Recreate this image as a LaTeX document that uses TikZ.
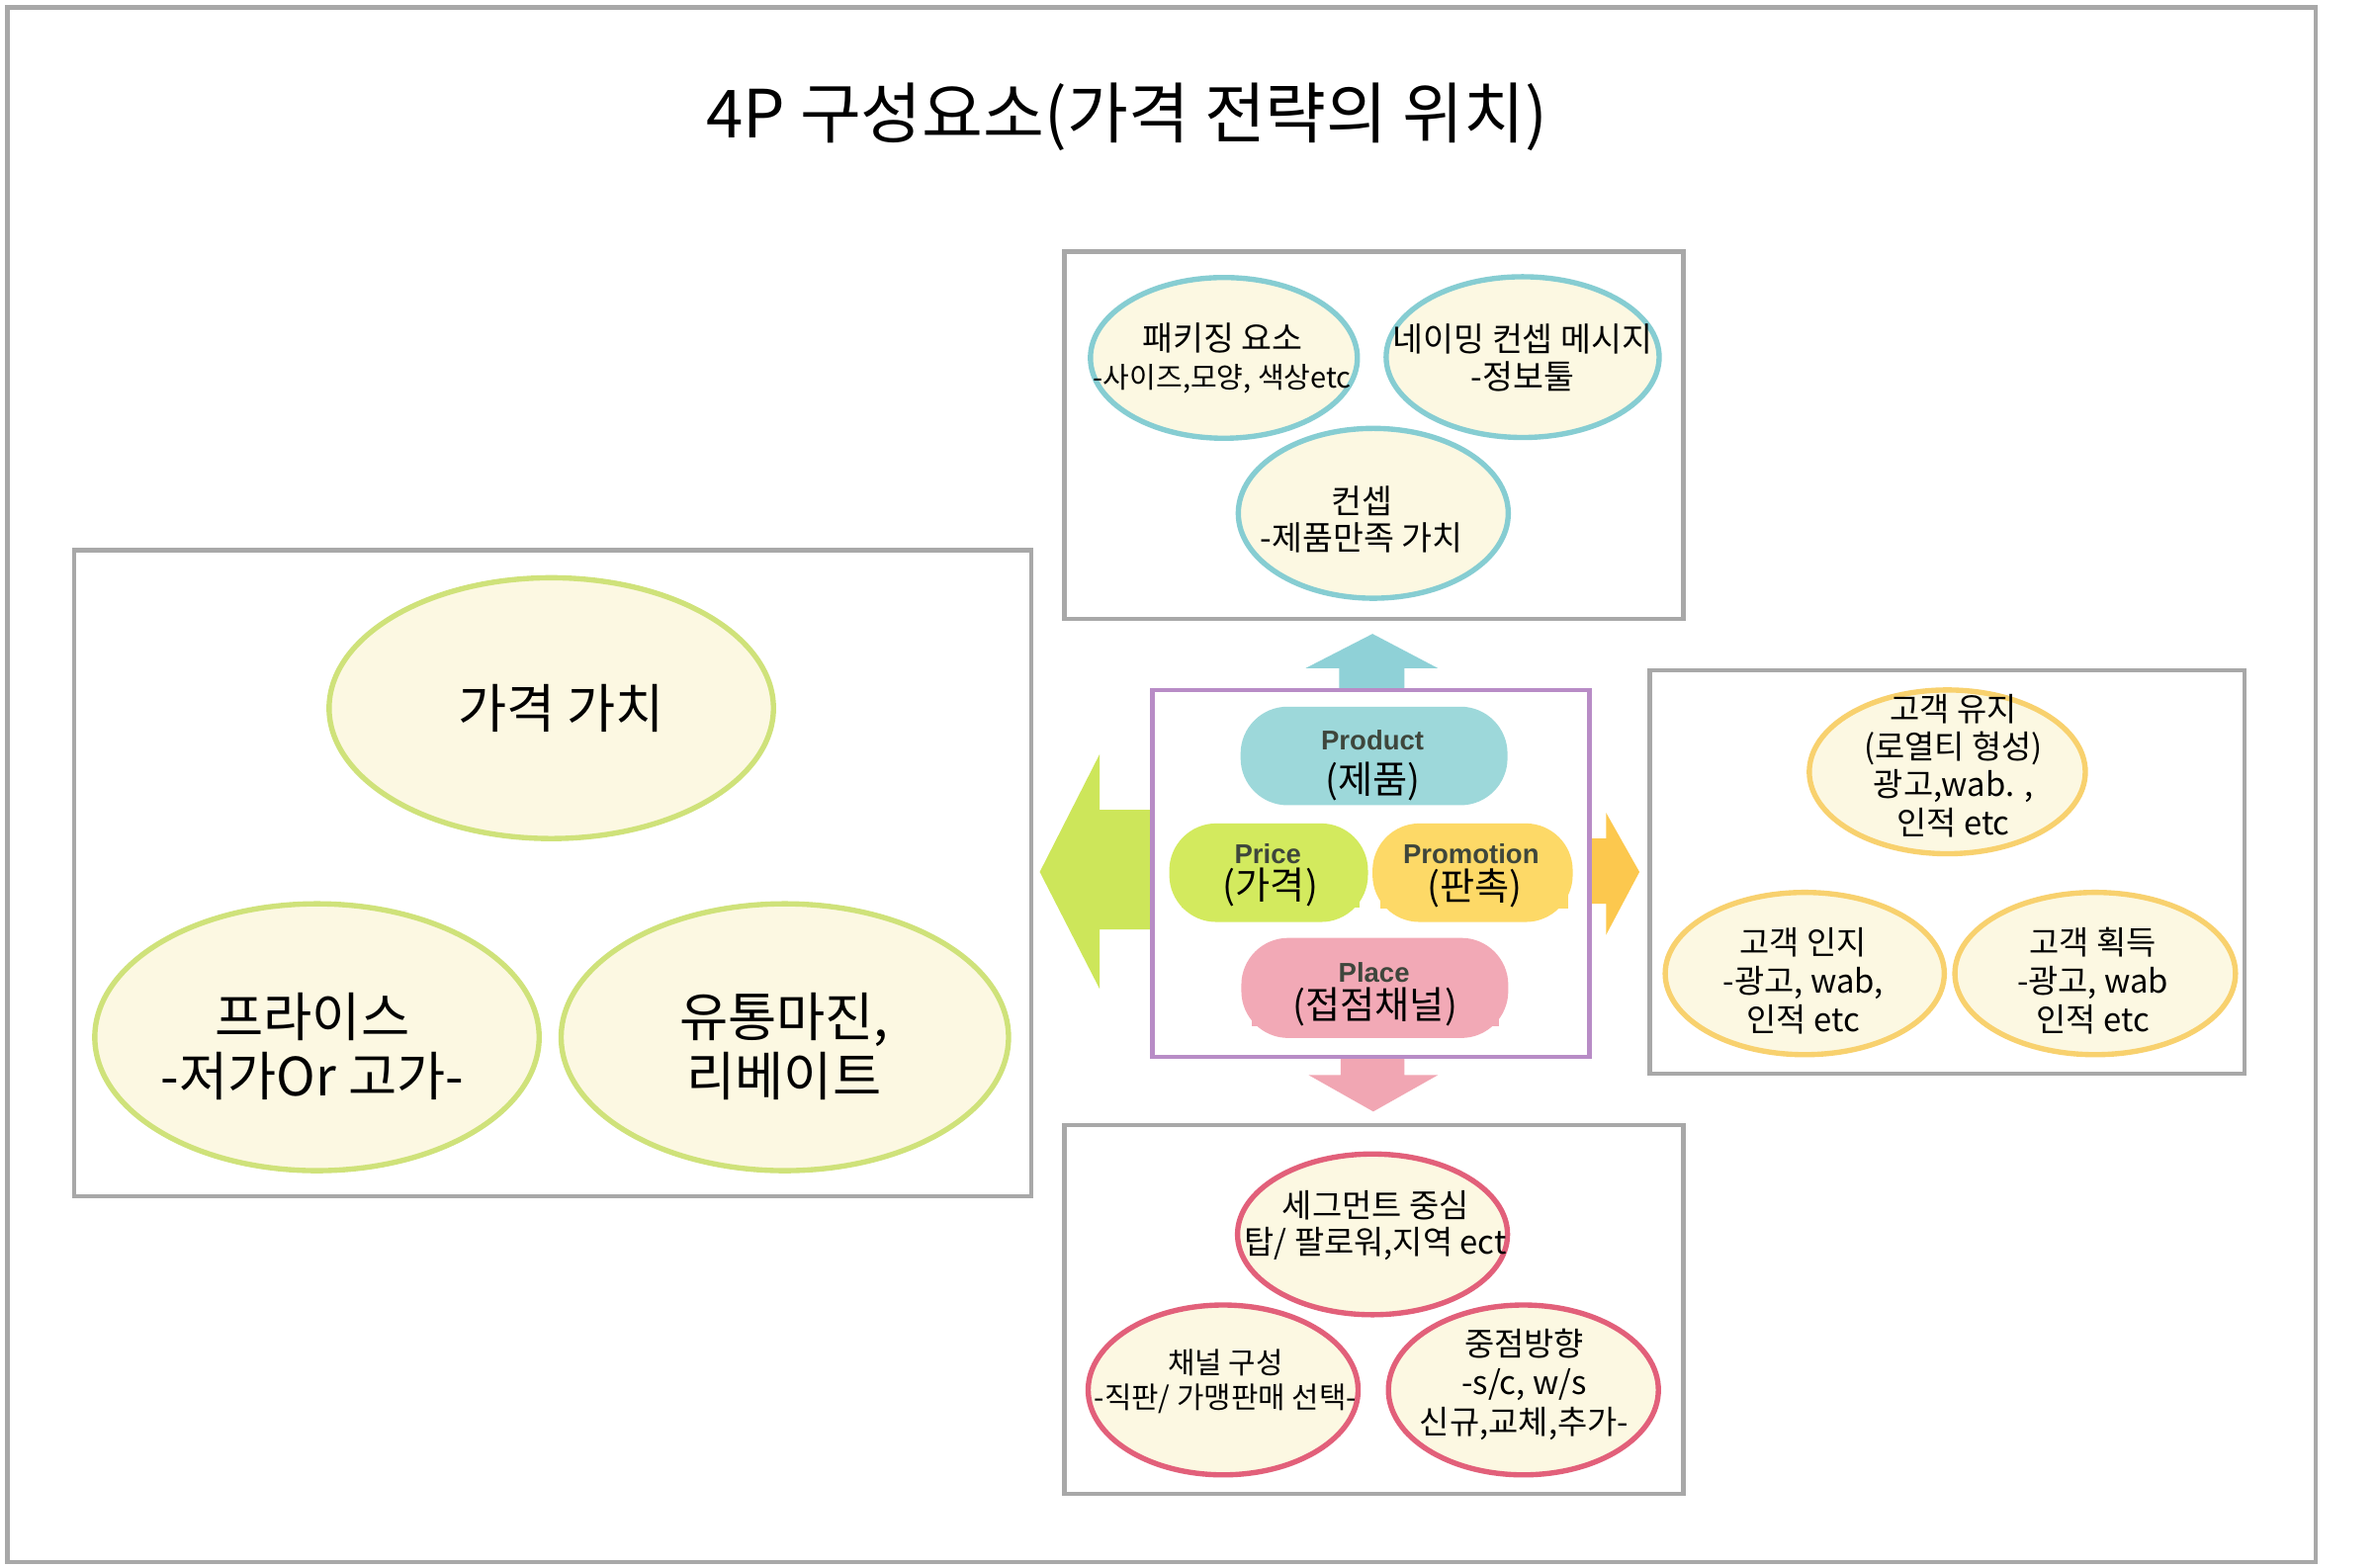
\documentclass[tikz,border=0pt]{standalone}
\usepackage{fontspec}
\setmainfont{Noto Sans CJK KR}
\newfontfamily\enfont{Liberation Sans}
\usetikzlibrary{shapes.geometric}
\pgfdeclarelayer{bg}
\pgfsetlayers{bg,main}
\definecolor{framegray}{HTML}{A8A8A8}
\definecolor{cream}{HTML}{FCF8E2}
\definecolor{tealline}{HTML}{86CDD2}
\definecolor{limeline}{HTML}{CFE27A}
\definecolor{yelline}{HTML}{F8D16E}
\definecolor{pinkline}{HTML}{E2607A}
\definecolor{pillteal}{HTML}{9DD8DA}
\definecolor{pilllime}{HTML}{D3EA5E}
\definecolor{pillyel}{HTML}{FDD967}
\definecolor{pillpink}{HTML}{F2A9B6}
\definecolor{arrteal}{HTML}{8FD1D7}
\definecolor{arrpink}{HTML}{F1A6B3}
\definecolor{arrlime}{HTML}{CDE65A}
\definecolor{arryel}{HTML}{FCC84E}
\definecolor{boxpurple}{HTML}{B88CC6}
\definecolor{labelgray}{HTML}{3E463C}
\definecolor{midgray}{HTML}{6B6B6B}
\tikzset{
  frame/.style={draw=framegray, line width=3bp},
  ell/.style={ellipse, fill=cream, line width=3.5bp, inner sep=0pt},
  tealell/.style={ell, draw=tealline},
  limeell/.style={ell, draw=limeline},
  yelell/.style={ell, draw=yelline},
  pinkell/.style={ell, draw=pinkline},
  txt/.style={inner sep=0pt, align=center},
  pill/.style={rectangle, rounded corners=31bp, inner sep=0pt},
  enlab/.style={inner sep=0pt, text=labelgray, font=\enfont\bfseries\fontsize{18}{18}\selectfont},
  kolab/.style={inner sep=0pt, font=\fontsize{25}{25}\selectfont}
}
\newcommand{\fsz}[2]{\fontsize{#1}{#2}\selectfont}
\begin{document}
\begin{tikzpicture}[x=1bp,y=-1bp]
\useasboundingbox (0,0) rectangle (1568,1034);
\fill[white] (0,0) rectangle (1568,1034);
% outer frame
\draw[frame] (5,5) rectangle (1527,1030);
% title
\node[inner sep=0pt, font=\fsz{44}{44}] (title) at (743,77) {4P 구성요소(가격 전략의 위치)};

% ---------- boxes ----------
\draw[frame] (702,166) rectangle (1110,408);
\draw[frame] (49,363) rectangle (680,789);
\draw[frame] (1088,442) rectangle (1480,708);
\draw[frame] (702,742) rectangle (1110,985);

% ---------- block arrows ----------
\fill[arrteal] (883,455) -- (883,440.6) -- (861,440.6) -- (905,418) -- (948,440.6) -- (926,440.6) -- (926,455) -- cycle;
\fill[arrpink] (884,697) -- (884,709) -- (863,709) -- (905.5,733) -- (948,709) -- (926,709) -- (926,697) -- cycle;
\fill[arrlime] (760,534) -- (725,534) -- (725,497.5) -- (685.6,575) -- (725,652) -- (725,613) -- (760,613) -- cycle;
\fill[arryel] (1048,553) -- (1059,553) -- (1059,536) -- (1081,575) -- (1059,616.5) -- (1059,596) -- (1048,596) -- cycle;

% ---------- centre box ----------
\draw[draw=boxpurple, line width=3bp] (760,455) rectangle (1048,697);
\node[pill, fill=pillteal, minimum width=176bp, minimum height=65bp] (product) at (906,498.5) {};
\node[pill, fill=pilllime, minimum width=131bp, minimum height=65bp] (price) at (836.5,575.5) {};
\node[pill, fill=pillyel, minimum width=132bp, minimum height=65bp] (promo) at (971,575.5) {};
\node[pill, fill=pillpink, minimum width=176bp, minimum height=66bp] (place) at (906.5,651.5) {};
\node[enlab] (productl) at (905,488) {Product};
\node[enlab] (pricel) at (836,563) {Price};
\node[enlab] (promol) at (970,563) {Promotion};
\node[enlab] (placel) at (906,641) {Place};
\node[kolab, fill=pillteal, minimum width=101bp, minimum height=31bp] (productk) at (905.3,515.3) {(제품)};
\node[kolab, fill=pilllime, minimum width=117bp, minimum height=27bp] (pricek) at (837.7,585.3) {(가격)};
\node[kolab, fill=pillyel, minimum width=124bp, minimum height=27bp] (promok) at (972.2,585.8) {(판촉)};
\node[kolab, fill=pillpink, minimum width=163bp, minimum height=25bp] (placek) at (906.7,664) {(접점채널)};
\begin{pgfonlayer}{bg}
\draw[midgray, line width=2.5bp] (product.center) -- (price.center) -- (place.center) -- (promo.center) -- (product.center);
\end{pgfonlayer}

% ---------- product box ----------
\node[tealell, minimum width=176bp, minimum height=106bp] (pack) at (807,236) {};
\node[tealell, minimum width=180bp, minimum height=106bp] (naming) at (1004,235.5) {};
\node[tealell, minimum width=178bp, minimum height=112bp] (concept) at (905.5,338.5) {};
\node[txt, font=\fsz{22}{25}] (packt) at (806,236.5) {패키징 요소\\{\fsz{19}{25}-사이즈,모양, 색상etc}};
\node[txt, font=\fsz{22}{25}] (namingt) at (1004,236) {네이밍 컨셉 메시지\\-정보툴};
\node[txt, font=\fsz{22}{24}] (conceptt) at (898,342.5) {컨셉\\-제품만족 가치};
\begin{pgfonlayer}{bg}
\draw[tealline, line width=5bp] ([yshift=11bp]pack.center) -- ([yshift=11bp]naming.center);
\draw[tealline, line width=4bp] (naming.center) -- (concept.center) -- (pack.center);
\end{pgfonlayer}

% ---------- price box ----------
\node[limeell, minimum width=293bp, minimum height=172bp] (value) at (363.5,467) {};
\node[limeell, minimum width=293bp, minimum height=176bp] (prices) at (209,684) {};
\node[limeell, minimum width=295bp, minimum height=176bp] (margin) at (517.5,684) {};
\node[txt, font=\fsz{35}{39.5}] (valuet) at (370,467) {가격 가치};
\node[txt, font=\fsz{35}{39.5}] (pricest) at (206,690) {프라이스\\-저가Or 고가-};
\node[txt, font=\fsz{35}{39.5}] (margint) at (517,690) {유통마진,\\리베이트};
\begin{pgfonlayer}{bg}
\draw[limeline, line width=3bp] (value.center) -- (prices.center) -- (margin.center) -- (value.center);
\end{pgfonlayer}

% ---------- promotion box ----------
\node[yelell, minimum width=182bp, minimum height=108bp] (keep) at (1284,509) {};
\node[yelell, minimum width=184bp, minimum height=107bp] (aware) at (1190,642) {};
\node[yelell, minimum width=185bp, minimum height=107bp] (gain) at (1381.5,642) {};
\node[txt, font=\fsz{21.5}{25}] (keept) at (1288,505) {고객 유지\\(로열티 형성)\\광고,wab. ,\\인적 etc};
\node[txt, font=\fsz{21.5}{25.5}] (awaret) at (1189,647) {고객 인지\\-광고, wab,\\인적 etc};
\node[txt, font=\fsz{21.5}{25.5}] (gaint) at (1380,647) {고객 획득\\-광고, wab\\인적 etc};
\begin{pgfonlayer}{bg}
\draw[yelline, line width=4bp] (aware.center) -- (keep.center) -- (gain.center);
\end{pgfonlayer}

% ---------- place box ----------
\node[pinkell, minimum width=178bp, minimum height=106bp] (segment) at (905,814) {};
\node[pinkell, minimum width=178bp, minimum height=112bp] (channel) at (806.5,916.6) {};
\node[pinkell, minimum width=178bp, minimum height=112bp] (focus) at (1004.5,916.6) {};
\node[txt, font=\fsz{21.5}{24.5}] (segmentt) at (907,808) {세그먼트 중심\\탑/ 팔로워,지역 ect};
\node[txt, font=\fsz{19.5}{23}] (channelt) at (808,911) {채널 구성\\-직판/ 가맹판매 선택-};
\node[txt, font=\fsz{21.5}{26}] (focust) at (1005,913) {중점방향\\-s/c, w/s\\신규,교체,추가-};
\begin{pgfonlayer}{bg}
\draw[pinkline, line width=5bp] ([yshift=-11bp]channel.center) -- ([yshift=-11bp]focus.center);
\draw[pinkline, line width=4bp] (channel.center) -- (segment.center) -- (focus.center);
\end{pgfonlayer}
\end{tikzpicture}
\end{document}
